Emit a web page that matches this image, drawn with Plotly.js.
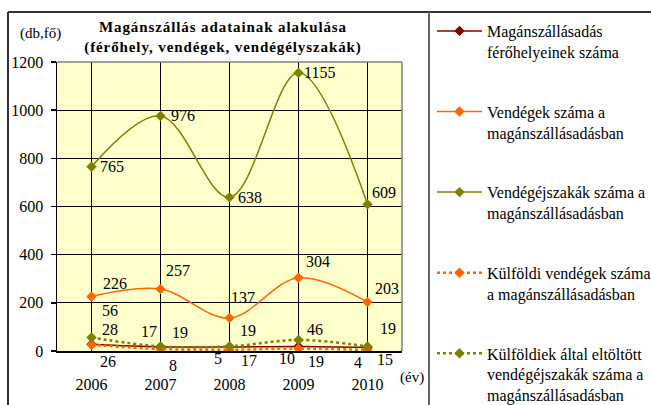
<!DOCTYPE html>
<html><head><meta charset="utf-8">
<script src="https://cdn.plot.ly/plotly-3.0.1.min.js"></script>
<style>html,body{margin:0;padding:0;background:#fff}#chart{width:651px;height:405px}.gtitle{letter-spacing:0.9px}</style>
</head><body><div id="chart"></div>
<script>
// ---- data ----
const years = [2006, 2007, 2008, 2009, 2010];
const ferohely = [28, 17, 17, 19, 15];
const vendegek = [226, 257, 137, 304, 203];
const vendegejszakak = [765, 976, 638, 1155, 609];
const kulfoldiVendegek = [26, 8, 5, 10, 4];
const kulfoldiEjszakak = [56, 19, 19, 46, 19];
const seriesNames = [
  'Magánszállásadás<br>férőhelyeinek száma',
  'Vendégek száma a<br>magánszállásadásban',
  'Vendégéjszakák száma a<br>magánszállásadásban',
  'Külföldi vendégek száma<br>a magánszállásadásban',
  'Külföldiek által eltöltött<br>vendégéjszakák száma a<br>magánszállásadásban'
];
const yTicks = [0, 200, 400, 600, 800, 1000, 1200];
const titleText = '<b>Magánszállás adatainak alakulása<br>(férőhely, vendégek, vendégélyszakák)</b>';
const yUnit = '(db,fő)';
const xUnit = '(év)';

// ---- styles ----
const FONT = 'Liberation Serif';
const series = [
  {y: ferohely, color: '#800000', dash: 'solid', width: 1.5, off: [[18,15],[-12,15],[19,-14],[17,-15],[17,-12]]},
  {y: vendegek, color: '#FF6600', dash: 'solid', width: 1.5, off: [[23,13],[17,19],[13,21],[19,16],[19,14]]},
  {y: vendegejszakak, color: '#808000', dash: 'solid', width: 1.5, off: [[20,0],[22,0],[20,0],[21,0],[16,12]]},
  {y: kulfoldiVendegek, color: '#FF6600', dash: 'dot', width: 2.5, off: [[16,-17],[12,-16],[-12,-9],[-12,-10],[-10,-12]]},
  {y: kulfoldiEjszakak, color: '#808000', dash: 'dot', width: 2.5, off: [[18,27],[19,14],[18,16],[16,10],[20,18]]}
];

const traces = series.map((s, i) => ({
  type: 'scatter', mode: 'lines+markers', x: years, y: s.y, name: seriesNames[i],
  legendgroup: 'g' + i,
  line: {color: s.color, width: s.width, dash: s.dash, shape: 'spline', smoothing: 1},
  marker: {symbol: 'diamond', size: 8, color: s.color},
  hoverinfo: 'x+y'
}));

const annotations = [];
series.forEach(s => {
  s.y.forEach((v, j) => {
    annotations.push({x: years[j], y: v, xref: 'x', yref: 'y', text: String(v), showarrow: false,
      xanchor: 'center', yanchor: 'middle', xshift: s.off[j][0], yshift: s.off[j][1],
      font: {family: FONT, size: 16, color: '#000'}});
  });
});

// pixel -> paper helpers (plot area 57..402 x, 62..351 y)
const L = 57, R = 402, T = 62, B = 351;
const px = x => (x - L) / (R - L);
const py = y => (B - y) / (B - T);

annotations.push({xref: 'paper', yref: 'paper', x: px(40), y: py(33), text: yUnit, showarrow: false,
  xanchor: 'center', yanchor: 'middle', font: {family: FONT, size: 15, color: '#000'}});
annotations.push({xref: 'paper', yref: 'paper', x: px(412), y: py(377), text: xUnit, showarrow: false,
  xanchor: 'center', yanchor: 'middle', font: {family: FONT, size: 15, color: '#000'}});

const shapes = [
  {type: 'line', xref: 'paper', yref: 'paper', x0: px(8), x1: px(651), y0: py(12), y1: py(12), line: {color: '#333', width: 2}},
  {type: 'line', xref: 'paper', yref: 'paper', x0: px(8), x1: px(8), y0: py(12), y1: py(405), line: {color: '#333', width: 2}},
  {type: 'line', xref: 'paper', yref: 'paper', x0: px(429), x1: px(429), y0: py(12), y1: py(405), line: {color: '#666', width: 2}},
  {type: 'line', xref: 'paper', yref: 'paper', x0: 0, x1: 1, y0: 1, y1: 1, line: {color: '#808080', width: 1.5}},
  {type: 'line', xref: 'paper', yref: 'paper', x0: 1, x1: 1, y0: 0, y1: 1, line: {color: '#808080', width: 1.5}}
];

const layout = {
  width: 651, height: 405,
  margin: {l: L, r: 651 - R, t: T, b: 405 - B, pad: 0},
  paper_bgcolor: '#fff', plot_bgcolor: '#FFFFCC',
  font: {family: FONT, size: 16, color: '#000'},
  title: {text: titleText, xref: 'container', yref: 'container', x: 223 / 651, y: 1 - 32 / 405,
    xanchor: 'center', yanchor: 'middle', font: {family: FONT, size: 15, color: '#000'}},
  showlegend: true,
  legend: {xref: 'container', yref: 'container', x: 432 / 651, y: 1 - 14 / 405, xanchor: 'left', yanchor: 'top',
    font: {family: FONT, size: 16, color: '#000'}, bgcolor: 'rgba(0,0,0,0)', borderwidth: 0,
    traceorder: 'grouped', tracegroupgap: 36, valign: 'top', itemwidth: 45, maxheight: 405},
  xaxis: {type: 'linear', range: [2005.5, 2010.5], tickvals: years, showgrid: true, gridcolor: '#000', gridwidth: 1,
    ticks: '', showline: true, linecolor: '#000', linewidth: 1.5, zeroline: false,
    ticklabelstandoff: 18, tickfont: {family: FONT, size: 16, color: '#000'}, fixedrange: true},
  xaxis2: {type: 'linear', overlaying: 'x', anchor: 'y', side: 'bottom', range: [2005.5, 2010.5], tick0: 2005.5, dtick: 1,
    showgrid: true, gridcolor: '#000', gridwidth: 1, showticklabels: false, ticks: 'outside', ticklen: 5,
    tickcolor: '#000', tickwidth: 1.5, showline: false, zeroline: false, fixedrange: true},
  yaxis: {range: [0, 1200], tickvals: yTicks, showgrid: true, gridcolor: '#000', gridwidth: 1,
    ticks: 'outside', ticklen: 5, tickcolor: '#000', tickwidth: 1.5, showline: true, linecolor: '#000', linewidth: 1.5,
    zeroline: false, ticklabelstandoff: 4, tickfont: {family: FONT, size: 16, color: '#000'}, fixedrange: true},
  annotations: annotations,
  shapes: shapes
};

Plotly.newPlot('chart', traces, layout, {displayModeBar: false, staticPlot: true});
</script>
</body></html>
